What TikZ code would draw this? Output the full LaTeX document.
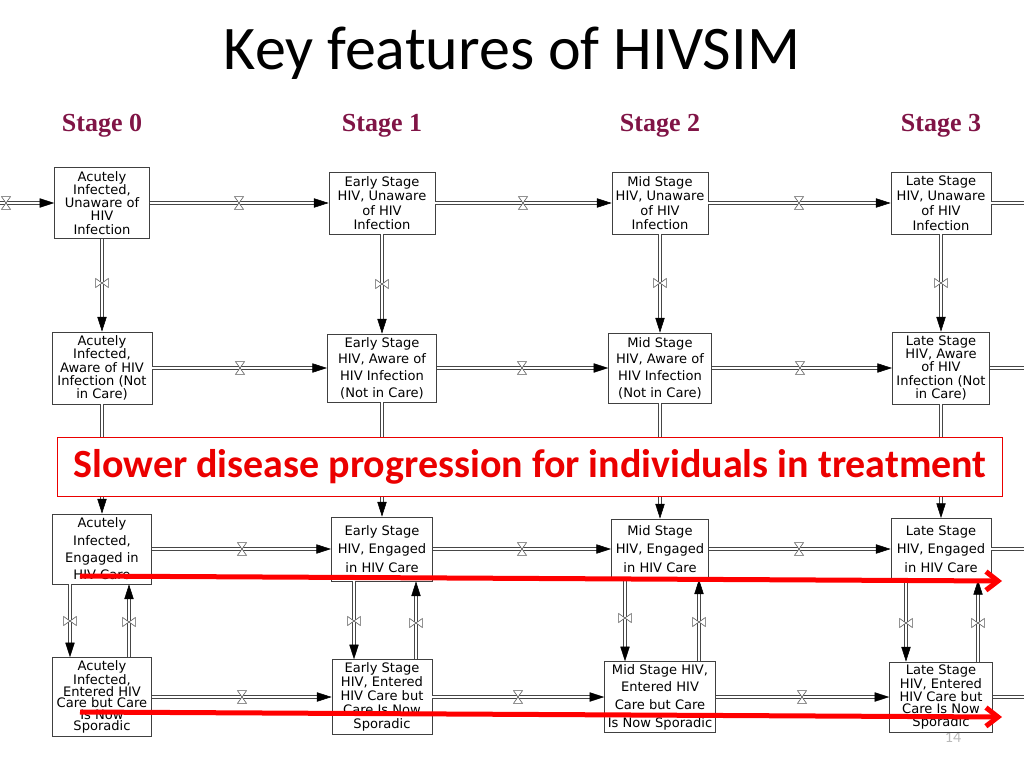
\documentclass[tikz,border=0pt]{standalone}
\usepackage{fontspec}
\setmainfont{DejaVu Sans}
\newfontfamily\titlefont{Carlito}
\newfontfamily\stagefont{Liberation Serif}
\usetikzlibrary{arrows.meta, positioning, decorations.markings}
\definecolor{stagered}{RGB}{128, 20, 70}
\definecolor{alertred}{RGB}{235, 0, 0}
\definecolor{pipegray}{RGB}{70, 70, 70}

\tikzset{
    stock/.style={rectangle, draw=black!75, fill=white, line width=0.6pt, align=center, inner xsep=0.5pt, inner ysep=1pt, font=\fontsize{9.8}{#1}\selectfont},
    stock/.default=10.5,
    pipe/.style={draw=pipegray, line width=0.45pt, double=white, double distance=1.6pt, shorten >=9pt,
        decoration={markings, mark=at position 1 with {\pgfsetinnerlinewidth{0pt}\arrow[black, line width=0.4pt]{Triangle[length=11pt, width=7pt]}}},
        postaction={decorate}},
    pipeout/.style={draw=pipegray, line width=0.45pt, double=white, double distance=1.6pt},
    valveline/.style={draw=black!65, line width=0.45pt, fill=white},
    hvalve/.pic={\draw[valveline] (-3.4pt,-4.8pt) -- (3.4pt,-4.8pt) -- (-3.4pt,4.8pt) -- (3.4pt,4.8pt) -- cycle;},
    vvalve/.pic={\draw[valveline] (-4.8pt,-3.4pt) -- (-4.8pt,3.4pt) -- (4.8pt,-3.4pt) -- (4.8pt,3.4pt) -- cycle;},
    stagelabel/.style={anchor=base, text=stagered, font=\stagefont\bfseries\fontsize{19.5}{22}\selectfont},
    trend/.style={draw=red, line width=3.75pt, -{Straight Barb[length=9pt, width=14pt]}}
}

\begin{document}
\begin{tikzpicture}[x=0.75pt, y=-0.75pt]
    \fill[white] (0,0) rectangle (1024,768);
    \useasboundingbox (0,0) rectangle (1024,768);

    % Title and stage headings
    \node[anchor=base, font=\titlefont\fontsize{46.5}{50}\selectfont] (title) at (512,69) {Key features of HIVSIM};
    \node[stagelabel] (s0) at (102,131) {Stage 0};
    \node[stagelabel] (s1) at (382,131) {Stage 1};
    \node[stagelabel] (s2) at (660,131) {Stage 2};
    \node[stagelabel] (s3) at (941,131) {Stage 3};

    % slide number, partly under the last box
    \node[font=\titlefont\fontsize{12}{14}\selectfont, text=gray!55] (pageno) at (953,737) {14};

    % Unaware of infection
    \node[stock=9.8, minimum width=71pt, minimum height=53pt] (a0) at (102,203) {Acutely\\Infected,\\Unaware of\\HIV\\Infection};
    \node[stock=10.7, minimum width=79.5pt, minimum height=46.5pt] (e0) at (382,203) {Early Stage\\HIV, Unaware\\of HIV\\Infection};
    \node[stock=10.7, minimum width=72pt, minimum height=46.5pt] (m0) at (660,203) {Mid Stage\\HIV, Unaware\\of HIV\\Infection};
    \node[stock=11.2, minimum width=75pt, minimum height=46.5pt] (l0) at (941,203) {Late Stage\\HIV, Unaware\\of HIV\\Infection};

    % Aware, not in care
    \node[stock=10, minimum width=75pt, minimum height=54pt] (a1) at (102,368) {Acutely\\Infected,\\Aware of HIV\\Infection (Not\\in Care)};
    \node[stock=12.5, minimum width=82pt, minimum height=51pt] (e1) at (382,368) {Early Stage\\HIV, Aware of\\HIV Infection\\(Not in Care)};
    \node[stock=12.5, minimum width=77pt, minimum height=52.5pt] (m1) at (660,368) {Mid Stage\\HIV, Aware of\\HIV Infection\\(Not in Care)};
    \node[stock=9.9, minimum width=73pt, minimum height=54pt] (l1) at (941,368) {Late Stage\\HIV, Aware\\of HIV\\Infection (Not\\in Care)};

    % Engaged in care
    \node[stock=13, minimum width=74pt, minimum height=52.5pt] (a2) at (102,549) {Acutely\\Infected,\\Engaged in\\HIV Care};
    \node[stock=13.7, minimum width=76pt, minimum height=48pt] (e2) at (382,549) {Early Stage\\HIV, Engaged\\in HIV Care};
    \node[stock=13.7, minimum width=73pt, minimum height=45pt] (m2) at (660,549) {Mid Stage\\HIV, Engaged\\in HIV Care};
    \node[stock=13.7, minimum width=75pt, minimum height=46pt] (l2) at (941,549) {Late Stage\\HIV, Engaged\\in HIV Care};

    % Sporadic care
    \node[stock=8.7, minimum width=74pt, minimum height=59pt] (a3) at (102,697) {Acutely\\Infected,\\Entered HIV\\Care but Care\\Is Now\\Sporadic};
    \node[stock=10.4, minimum width=75pt, minimum height=56pt] (e3) at (382,697) {Early Stage\\HIV, Entered\\HIV Care but\\Care Is Now\\Sporadic};
    \node[stock=13.2, minimum width=83pt, minimum height=53pt] (m3) at (660,697) {Mid Stage HIV,\\Entered HIV\\Care but Care\\Is Now Sporadic};
    \node[stock=9.3, minimum width=77pt, minimum height=52.5pt] (l3) at (941,697) {Late Stage\\HIV, Entered\\HIV Care but\\Care Is Now\\Sporadic};

    % free ends at the slide edges
    \coordinate (src0) at (-30,203);
    \coordinate (sink0) at (1040,203);
    \coordinate (sink1) at (1040,368);
    \coordinate (sink2) at (1040,549);
    \coordinate (sink3) at (1040,697);

    % Progression flows
    \draw[pipe] (src0) -- (a0);
    \draw[pipe] (a0) -- (e0);
    \draw[pipe] (e0) -- (m0);
    \draw[pipe] (m0) -- (l0);
    \draw[pipeout] (l0) -- (sink0);
    \draw[pipe] (a1) -- (e1);
    \draw[pipe] (e1) -- (m1);
    \draw[pipe] (m1) -- (l1);
    \draw[pipeout] (l1) -- (sink1);
    \draw[pipe] (a2) -- (e2);
    \draw[pipe] (e2) -- (m2);
    \draw[pipe] (m2) -- (l2);
    \draw[pipeout] (l2) -- (sink2);
    \draw[pipe] (a3) -- (e3);
    \draw[pipe] (e3) -- (m3);
    \draw[pipe] (m3) -- (l3);
    \draw[pipeout] (l3) -- (sink3);

    % Diagnosis and linkage flows
    \draw[pipe] (a0) -- (a1);
    \draw[pipe] (e0) -- (e1);
    \draw[pipe] (m0) -- (m1);
    \draw[pipe] (l0) -- (l1);
    \draw[pipe] (a1) -- (a2);
    \draw[pipe] (e1) -- (e2);
    \draw[pipe] (m1) -- (m2);
    \draw[pipe] (l1) -- (l2);

    % Drop out of care and return
    \draw[pipe] (a2.south -| 70,0) -- (a3.north -| 70,0);
    \draw[pipe] (a3.north -| 129,0) -- (a2.south -| 129,0);
    \draw[pipe] (e2.south -| 354,0) -- (e3.north -| 354,0);
    \draw[pipe] (e3.north -| 416,0) -- (e2.south -| 416,0);
    \draw[pipe] (m2.south -| 625,0) -- (m3.north -| 625,0);
    \draw[pipe] (m3.north -| 699,0) -- (m2.south -| 699,0);
    \draw[pipe] (l2.south -| 906,0) -- (l3.north -| 906,0);
    \draw[pipe] (l3.north -| 978,0) -- (l2.south -| 978,0);

    % Valves
    \pic at (6,203) {hvalve};
    \pic at (239,203) {hvalve};
    \pic at (523,203) {hvalve};
    \pic at (799,203) {hvalve};
    \pic at (240,368) {hvalve};
    \pic at (522,368) {hvalve};
    \pic at (800,368) {hvalve};
    \pic at (242,549) {hvalve};
    \pic at (522,549) {hvalve};
    \pic at (799,549) {hvalve};
    \pic at (242,697) {hvalve};
    \pic at (518,697) {hvalve};
    \pic at (802,697) {hvalve};
    \pic at (102,283) {vvalve};
    \pic at (382,284) {vvalve};
    \pic at (660,283) {vvalve};
    \pic at (941,283) {vvalve};
    \pic at (70,621) {vvalve};
    \pic at (129,622) {vvalve};
    \pic at (354,621) {vvalve};
    \pic at (416,623) {vvalve};
    \pic at (625,618) {vvalve};
    \pic at (699,622) {vvalve};
    \pic at (906,623) {vvalve};
    \pic at (978,623) {vvalve};

    % Callout over the treatment row
    \node[draw=alertred, line width=0.8pt, fill=white, minimum width=709pt, minimum height=44pt, text=alertred,
        font=\titlefont\bfseries\fontsize{30}{32}\selectfont] (note) at (530,467) {Slower disease progression for individuals in treatment};

    % red trend arrows
    \coordinate (t2a) at (80,576);
    \coordinate (t2b) at (1002,581);
    \coordinate (t3a) at (80,712);
    \coordinate (t3b) at (1002,717);
    \draw[trend] (t2a) -- (t2b);
    \draw[trend] (t3a) -- (t3b);

\end{tikzpicture}
\end{document}
